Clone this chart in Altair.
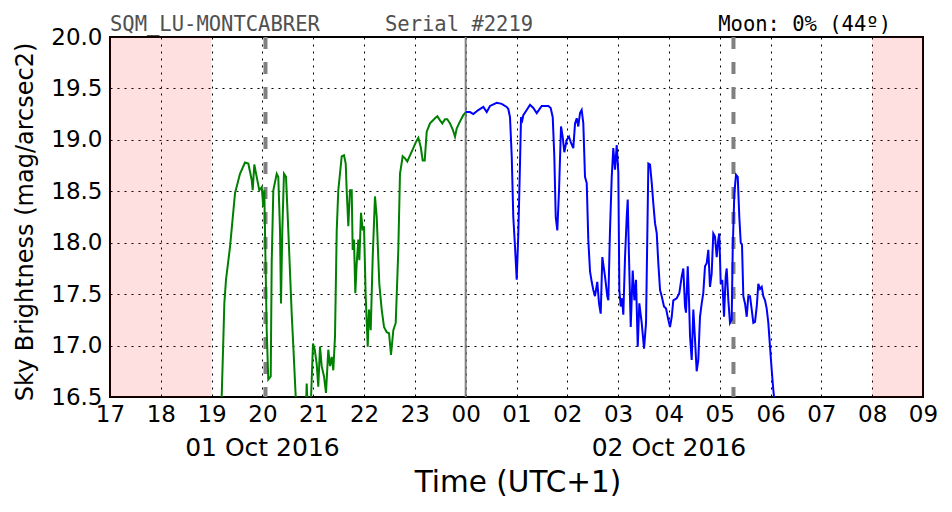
import json
import altair as alt
import pandas as pd

# ---- data (hours after 17:00 local, sky brightness mag/arcsec2) ----
green_h = [2.17, 2.198, 2.230, 2.25, 2.283, 2.362, 2.460, 2.558, 2.657, 2.722, 2.789, 2.808, 2.840, 2.887,
           2.938, 2.986, 3.017, 3.037, 3.050, 3.084, 3.115, 3.163, 3.182, 3.214, 3.281, 3.312, 3.346,
           3.365, 3.391, 3.424, 3.464, 3.509, 3.576, 3.608, 3.655, 3.70, 3.85, 3.871, 3.90, 3.95, 3.995,
           4.030, 4.068, 4.099, 4.133, 4.166, 4.212, 4.251, 4.296, 4.330, 4.363, 4.395, 4.428, 4.462,
           4.493, 4.560, 4.605, 4.639, 4.658, 4.690, 4.723, 4.757, 4.776, 4.802, 4.828, 4.855, 4.887,
           4.907, 4.940, 4.974, 4.999, 5.032, 5.072, 5.097, 5.131, 5.170, 5.215, 5.249, 5.300, 5.347,
           5.393, 5.446, 5.491, 5.530, 5.576, 5.623, 5.674, 5.707, 5.760, 5.806, 5.851, 5.904, 5.969,
           6.022, 6.068, 6.115, 6.154, 6.194, 6.233, 6.298, 6.396, 6.442, 6.495, 6.540, 6.593, 6.638,
           6.692, 6.745, 6.790, 6.823, 6.888, 6.953, 7.006]
green_v = [16.40, 16.50, 17.05, 17.41, 17.64, 17.96, 18.48, 18.67, 18.78, 18.77, 18.61, 18.51, 18.76, 18.64,
           18.51, 18.54, 18.35, 18.51, 18.12, 17.15, 16.67, 16.70, 17.80, 18.51, 18.67, 18.64, 18.12,
           17.41, 18.12, 18.67, 18.64, 18.12, 17.31, 16.99, 16.50, 16.20, 16.30, 16.63, 16.30, 16.40, 17.02,
           16.96, 16.82, 16.60, 16.99, 16.80, 16.70, 16.54, 16.96, 16.80, 16.89, 16.76, 17.09, 18.12,
           18.51, 18.84, 18.85, 18.77, 18.51, 18.16, 18.51, 18.51, 17.93, 18.03, 17.51, 17.80, 18.03,
           17.83, 18.29, 18.12, 18.16, 17.48, 16.99, 17.35, 17.15, 17.86, 18.45, 18.25, 17.60, 17.35,
           17.18, 17.13, 17.12, 16.91, 17.15, 17.22, 17.93, 18.67, 18.84, 18.82, 18.79, 18.85, 18.92,
           18.98, 19.02, 18.93, 18.80, 18.80, 19.08, 19.16, 19.21, 19.23, 19.19, 19.16, 19.20, 19.20,
           19.16, 19.10, 19.03, 19.11, 19.18, 19.24, 19.27]

blue_h = [7.006, 7.085, 7.150, 7.248, 7.347, 7.414, 7.479, 7.611, 7.709, 7.807, 7.839, 7.872, 7.906,
          7.937, 7.971, 8.004, 8.036, 8.069, 8.089, 8.114, 8.134, 8.201, 8.266, 8.331, 8.398, 8.496,
          8.626, 8.673, 8.713, 8.744, 8.772, 8.803, 8.837, 8.876, 8.909, 8.941, 8.988, 9.033, 9.073,
          9.118, 9.152, 9.185, 9.216, 9.250, 9.283, 9.315, 9.348, 9.382, 9.413, 9.447, 9.480, 9.512,
          9.545, 9.590, 9.624, 9.657, 9.689, 9.742, 9.787, 9.807, 9.840, 9.874, 9.905, 9.939, 9.972,
          10.004, 10.024, 10.051, 10.077, 10.102, 10.136, 10.169, 10.189, 10.214, 10.248, 10.287,
          10.319, 10.352, 10.386, 10.417, 10.464, 10.510, 10.549, 10.575, 10.595, 10.628, 10.662,
          10.693, 10.726, 10.760, 10.791, 10.825, 10.858, 10.903, 10.943, 10.988, 11.021, 11.055,
          11.086, 11.153, 11.204, 11.251, 11.283, 11.316, 11.336, 11.370, 11.395, 11.415, 11.448,
          11.480, 11.513, 11.546, 11.578, 11.611, 11.645, 11.676, 11.710, 11.743, 11.775, 11.808,
          11.841, 11.873, 11.906, 11.940, 11.971, 11.991, 12.019, 12.050, 12.084, 12.117, 12.137,
          12.169, 12.202, 12.235, 12.255, 12.287, 12.320, 12.354, 12.385, 12.413, 12.438, 12.464,
          12.497, 12.531, 12.562, 12.596, 12.629, 12.661, 12.694, 12.728, 12.759, 12.793, 12.826,
          12.857, 12.891, 12.924, 12.956, 12.989, 13.023, 13.054, 13.078]
blue_v = [19.27, 19.27, 19.25, 19.29, 19.32, 19.27, 19.33, 19.36, 19.35, 19.32, 19.30, 19.22, 18.84,
          18.25, 17.96, 17.64, 18.09, 18.77, 19.22, 19.19, 19.24, 19.29, 19.34, 19.31, 19.26, 19.33,
          19.33, 19.31, 19.22, 18.84, 18.25, 18.12, 18.51, 19.13, 19.03, 18.88, 19.00, 19.03, 18.97,
          18.92, 19.16, 19.21, 19.13, 19.26, 19.29, 19.16, 18.64, 18.58, 18.03, 17.72, 17.62, 17.54,
          17.48, 17.62, 17.41, 17.31, 17.86, 17.67, 17.48, 17.44, 18.12, 18.64, 18.92, 18.71, 18.95,
          18.68, 17.54, 17.38, 17.46, 17.30, 17.86, 18.25, 18.42, 17.86, 17.18, 17.73,
          17.44, 17.64, 16.99, 17.41, 17.22, 16.97, 17.22, 18.09, 18.77, 18.76, 18.58,
          18.38, 18.19, 18.09, 17.80, 17.54, 17.48, 17.38, 17.36, 17.25, 17.18, 17.28,
          17.44, 17.46, 17.51, 17.67, 17.75, 17.38, 17.32, 17.77, 17.44, 17.09, 16.86,
          17.35, 17.06, 16.75, 16.86, 17.28, 17.41, 17.51, 17.77, 17.80, 17.93, 17.57,
          17.70, 18.09, 18.06, 17.86, 18.03, 18.09, 17.60, 17.64, 17.28, 17.67, 17.75,
          17.44, 17.22, 17.25, 17.93, 18.48, 18.66, 18.64, 18.25, 18.00, 17.98, 17.48,
          17.41, 17.28, 17.48, 17.48, 17.35, 17.22, 17.23, 17.38, 17.60, 17.55, 17.57,
          17.48, 17.44, 17.36, 17.22, 16.99, 16.76, 16.57, 16.45]

hour_labels = ["17", "18", "19", "20", "21", "22", "23", "00", "01", "02", "03", "04",
               "05", "06", "07", "08", "09"]
y_ticks = [16.5, 17.0, 17.5, 18.0, 18.5, 19.0, 19.5, 20.0]

day_start = [0.0, 15.0]      # daylight shading
day_end = [2.0, 16.0]
twilight_h = [3.06, 12.27]   # dashed markers
midnight_h = [7.0]
date_h = [3, 11]
date_text = ["01 Oct 2016", "02 Oct 2016"]

W, H = 813, 360

green = pd.DataFrame({"h": green_h, "v": green_v})
blue = pd.DataFrame({"h": blue_h, "v": blue_v})
days = pd.DataFrame({"a": day_start, "b": day_end})
twil = pd.DataFrame({"h": twilight_h})
mid = pd.DataFrame({"h": midnight_h})
dates = pd.DataFrame({"h": date_h, "t": date_text})

xscale = alt.Scale(domain=[0, 16], nice=False, zero=False)
yscale = alt.Scale(domain=[16.5, 20.0], nice=False, zero=False)

xaxis = alt.Axis(values=list(range(17)), labelExpr=f"{json.dumps(hour_labels)}[datum.value]",
                 title=None, grid=True, ticks=False, domain=False, labelPadding=6,
                 labelFlush=False, labelOverlap=False, labelBound=False,
                 labelFontSize=23, labelFont="DejaVu Sans", labelColor="black")
yaxis = alt.Axis(values=y_ticks, format=".1f", title=None, grid=True, ticks=False, domain=False,
                 labelFlush=False, labelOverlap=False,
                 labelPadding=8, labelFontSize=23, labelFont="DejaVu Sans", labelColor="black")

shade = alt.Chart(days).mark_rect(color="#ff0000", opacity=0.12).encode(
    x=alt.X("a:Q", scale=xscale, axis=xaxis),
    x2="b:Q",
    y=alt.value(0), y2=alt.value(H),
)
base_y = alt.Y("v:Q", scale=yscale, axis=yaxis)

tw = alt.Chart(twil).mark_rule(color="#808080", strokeWidth=4, strokeDash=[12, 13]).encode(
    x=alt.X("h:Q", scale=xscale))
md = alt.Chart(mid).mark_rule(color="#808080", strokeWidth=2).encode(
    x=alt.X("h:Q", scale=xscale))

gl = alt.Chart(green).mark_line(color="#008000", strokeWidth=2, clip=True).encode(
    x=alt.X("h:Q", scale=xscale), y=base_y)
bl = alt.Chart(blue).mark_line(color="#0000ff", strokeWidth=2, clip=True).encode(
    x=alt.X("h:Q", scale=xscale), y=alt.Y("v:Q", scale=yscale))

dt = alt.Chart(dates).mark_text(fontSize=25, font="DejaVu Sans", color="black",
                                baseline="alphabetic", align="center").encode(
    x=alt.X("h:Q", scale=xscale), y=alt.value(419), text="t:N")

def label(txt, x, y, **kw):
    return alt.Chart(pd.DataFrame({"t": [txt]})).mark_text(**kw).encode(
        x=alt.value(x), y=alt.value(y), text="t:N")

t1 = label("SQM_LU-MONTCABRER", 0, -6, font="DejaVu Sans Mono", fontSize=20.5,
           color="#505050", align="left", baseline="alphabetic")
t2 = label("Serial #2219", 275, -6, font="DejaVu Sans Mono", fontSize=20.5,
           color="#505050", align="left", baseline="alphabetic")
t3 = label("Moon: 0% (44º)", 781, -6, font="DejaVu Sans Mono", fontSize=20.5,
           color="black", align="right", baseline="alphabetic")
xt = label("Time (UTC+1)", 408, 455, font="DejaVu Sans", fontSize=29.5, color="black",
           align="center", baseline="alphabetic")
yt = label("Sky Brightness (mag/arcsec2)", -84, 185, font="DejaVu Sans", fontSize=24,
           color="black", align="center", baseline="middle", angle=270)

chart = alt.layer(shade, tw, md, gl, bl, dt, t1, t2, t3, xt, yt).properties(
    width=W, height=H,
    autosize=alt.AutoSizeParams(type="none"),
    padding={"left": 110, "top": 37, "right": 29, "bottom": 115},
    background="white",
).configure_view(stroke="black", strokeWidth=2).configure_axis(
    gridColor="black", gridDash=[2, 5], gridWidth=1, gridOpacity=1
)

chart.save("out.html", embed_options={"renderer": "svg", "actions": False})
